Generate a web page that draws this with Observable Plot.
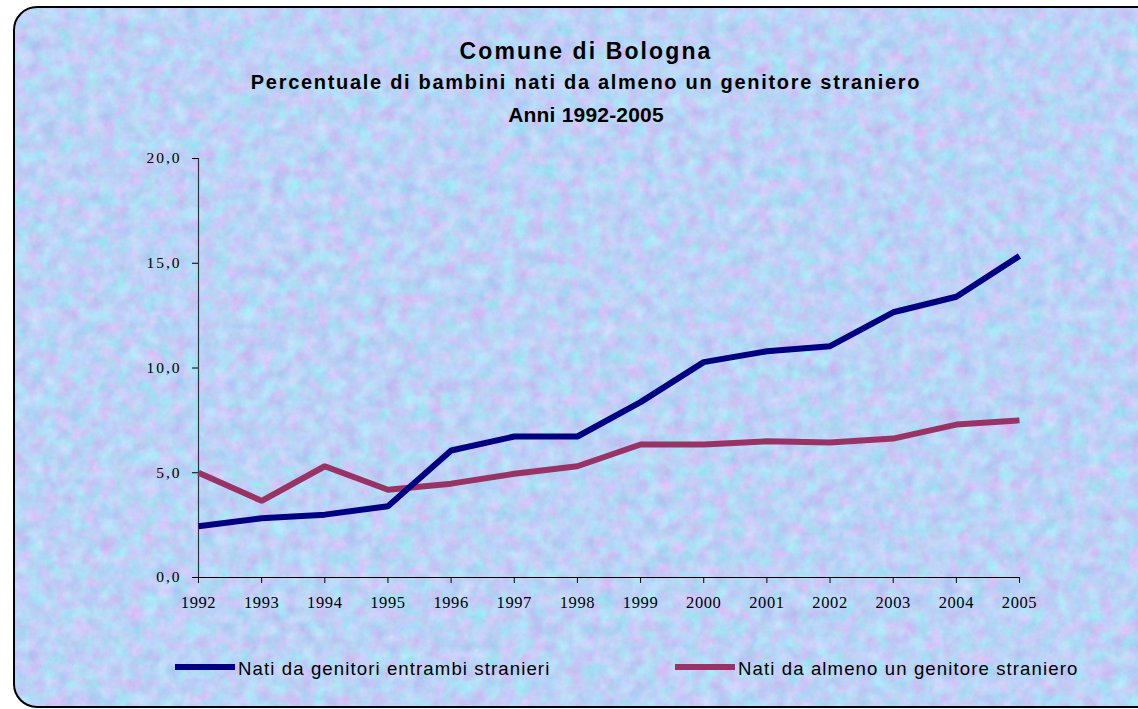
<!DOCTYPE html>
<html>
<head>
<meta charset="utf-8">
<script src="https://cdn.jsdelivr.net/npm/d3@7"></script>
<script src="https://cdn.jsdelivr.net/npm/@observablehq/plot@0.6"></script>
<style>
  html, body { margin: 0; padding: 0; background: #fff; overflow: hidden; }
  #page { position: relative; width: 1138px; height: 709px; overflow: hidden; background: #fff; }
  #frame { position: absolute; left: 13px; top: 6px; width: 1180px; height: 698px;
           border: 2px solid #000; border-radius: 24px; background-color: rgb(192,206,245); overflow: hidden; }
  #titles { position: absolute; left: 0; top: 0; width: 1172px; text-align: center;
            font-family: "Liberation Sans", Arial, sans-serif; font-weight: bold; color: #000; }
  #titles div { position: absolute; left: 0; width: 100%; white-space: nowrap; line-height: 1; }
  #t1 { top: 40px; font-size: 23px; letter-spacing: 2.1px; }
  #t2 { top: 72px; font-size: 20px; letter-spacing: 1.7px; }
  #t3 { top: 104px; font-size: 21px; letter-spacing: 0.2px; }
  #chart { position: absolute; left: 0; top: 130px; }
  .leg { position: absolute; top: 657px; height: 24px; font-family: "Liberation Sans", Arial, sans-serif;
         font-size: 18.6px; letter-spacing: 1.1px; color: #000; white-space: nowrap; }
  .sw { position: absolute; top: 7px; width: 60px; height: 6px; }
  .lt { position: absolute; left: 63px; top: 0; line-height: 24px; }
</style>
</head>
<body>
<div id="page">
  <div id="frame"></div>
  <div id="titles">
    <div id="t1"></div>
    <div id="t2"></div>
    <div id="t3"></div>
  </div>
  <div id="chart"></div>
  <div id="legend"></div>
</div>
<script>
const titleText = "Comune di Bologna";
const subtitleText = "Percentuale di bambini nati da almeno un genitore straniero";
const periodText = "Anni 1992-2005";

const years = [1992, 1993, 1994, 1995, 1996, 1997, 1998, 1999, 2000, 2001, 2002, 2003, 2004, 2005];
const entrambi = [2.45, 2.83, 3.0, 3.4, 6.06, 6.73, 6.73, 8.37, 10.28, 10.8, 11.04, 12.66, 13.4, 15.35];
const almeno = [5.0, 3.66, 5.31, 4.19, 4.48, 4.95, 5.31, 6.35, 6.35, 6.5, 6.44, 6.63, 7.3, 7.5];
const yTicks = [0, 5, 10, 15, 20];
const seriesNames = ["Nati da genitori entrambi stranieri", "Nati da almeno un genitore straniero"];
const seriesColors = ["#000080", "#993366"];

// mottled paper-like background texture
const tex = "<svg xmlns='http://www.w3.org/2000/svg' width='1180' height='700'>" +
  "<filter id='n' x='0' y='0' width='100%' height='100%' color-interpolation-filters='sRGB'>" +
  "<feTurbulence type='fractalNoise' baseFrequency='0.07' numOctaves='4' seed='7'/>" +
  "<feColorMatrix type='matrix' values='0.24 -0.14 0.12 0 0.625  -0.08 0.22 0.1 0 0.705  0 0 0.08 0 0.925  0 0 0 0 1'/>" +
  "</filter><rect width='100%' height='100%' filter='url(#n)'/></svg>";
document.getElementById("frame").style.backgroundImage = "url(\"data:image/svg+xml," + encodeURIComponent(tex) + "\")";

document.getElementById("t1").textContent = titleText;
document.getElementById("t2").textContent = subtitleText;
document.getElementById("t3").textContent = periodText;

const rows = years.flatMap((yr, i) => [
  {year: yr, value: entrambi[i], serie: seriesNames[0]},
  {year: yr, value: almeno[i], serie: seriesNames[1]}
]);

const chart = Plot.plot({
  width: 1138,
  height: 500,
  marginTop: 28,
  marginBottom: 53,
  marginLeft: 198,
  marginRight: 119,
  style: {background: "transparent", fontFamily: "'Liberation Serif', 'Times New Roman', serif", fontSize: "16.5px", color: "#000", overflow: "visible"},
  x: {domain: [1992, 2005], label: null},
  y: {domain: [0, 20], label: null},
  color: {domain: seriesNames, range: seriesColors},
  marks: [
    Plot.axisX({ticks: years, tickFormat: d => String(d), tickSize: 6, tickPadding: 13, label: null, stroke: "#000", fontSize: 16.5}),
    Plot.axisY({ticks: yTicks, tickFormat: d => d.toFixed(1).replace(".", ","), tickSize: 6, tickPadding: 11, label: null, stroke: "#000", fontSize: 15.5}),
    Plot.ruleY([0], {stroke: "#000", strokeWidth: 1.2}),
    Plot.ruleX([1992], {stroke: "#333", strokeWidth: 1.2}),
    Plot.line(rows.filter(d => d.serie === seriesNames[1]), {x: "year", y: "value", stroke: "serie", strokeWidth: 6, strokeLinejoin: "miter", strokeLinecap: "butt"}),
    Plot.line(rows.filter(d => d.serie === seriesNames[0]), {x: "year", y: "value", stroke: "serie", strokeWidth: 6, strokeLinejoin: "miter", strokeLinecap: "butt"})
  ]
});
// widen the serif tick labels like the original
d3.select(chart).selectAll("[aria-label='y-axis tick label'] text").style("letter-spacing", "2px");
d3.select(chart).selectAll("[aria-label='x-axis tick label'] text").style("letter-spacing", "0.6px");
document.getElementById("chart").appendChild(chart);

const legend = document.getElementById("legend");
const legendLeft = [175, 675];
seriesNames.forEach((name, i) => {
  const item = document.createElement("div");
  item.className = "leg";
  item.style.left = legendLeft[i] + "px";
  const sw = document.createElement("div");
  sw.className = "sw";
  sw.style.background = seriesColors[i];
  const lt = document.createElement("div");
  lt.className = "lt";
  lt.textContent = name;
  item.appendChild(sw);
  item.appendChild(lt);
  legend.appendChild(item);
});
</script>
</body>
</html>
